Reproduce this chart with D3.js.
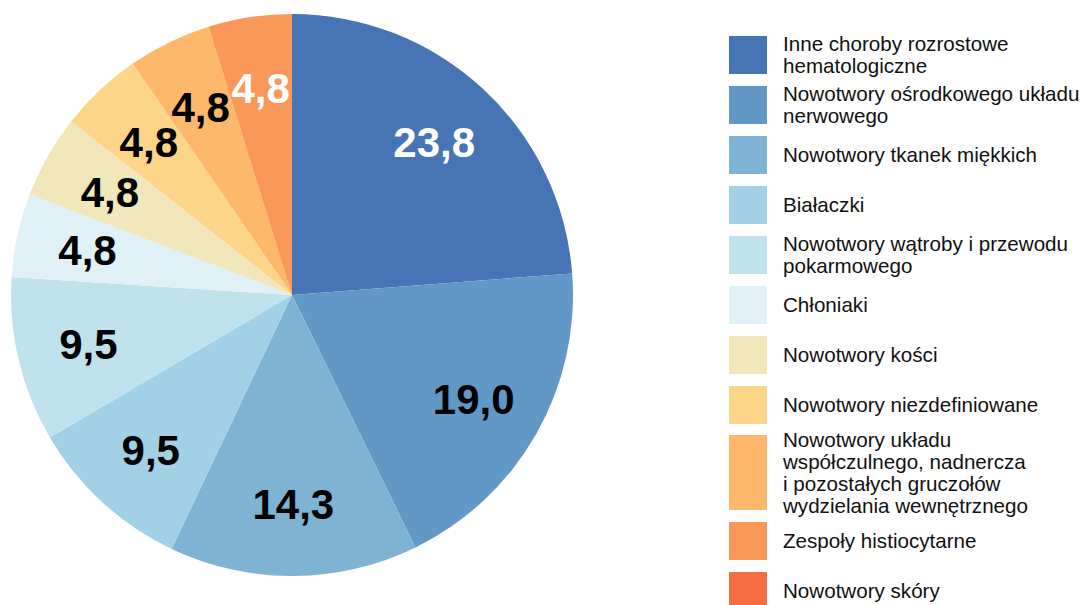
<!DOCTYPE html>
<html><head><meta charset="utf-8">
<script src="https://cdn.jsdelivr.net/npm/d3@7"></script>
<style>body{margin:0;background:#fff}svg{display:block}</style>
</head><body>
<svg id="c" width="1085" height="605"></svg>
<script>
const categories = [
  ["Inne choroby rozrostowe","hematologiczne"],
  ["Nowotwory ośrodkowego układu","nerwowego"],
  ["Nowotwory tkanek miękkich"],
  ["Białaczki"],
  ["Nowotwory wątroby i przewodu","pokarmowego"],
  ["Chłoniaki"],
  ["Nowotwory kości"],
  ["Nowotwory niezdefiniowane"],
  ["Nowotwory układu","współczulnego, nadnercza","i pozostałych gruczołów","wydzielania wewnętrznego"],
  ["Zespoły histiocytarne"],
  ["Nowotwory skóry"]
];
const values = [23.8, 19.0, 14.3, 9.5, 9.5, 4.8, 4.8, 4.8, 4.8, 4.8, 0];
const colors = ["#4674b5","#6298c6","#7fb3d4","#a2d0e4","#c0e2ec","#dff1f7","#f2e6bb","#fcd588","#fdb86b","#f99858","#f46d43"];
const labelColors = ["#fff","#000","#000","#000","#000","#000","#000","#000","#000","#fff","#000"];

const svg = d3.select("#c");
const cx = 292, cy = 295, R = 281;
const g = svg.append("g").attr("transform", `translate(${cx},${cy})`);
const pie = d3.pie().sort(null).value(d => d)(values);
const arc = d3.arc().innerRadius(0).outerRadius(R);
const labelArc = d3.arc().innerRadius(R*0.745).outerRadius(R*0.745);
const fmt = v => d3.format(".1f")(v).replace(".", ",");

g.selectAll("path").data(pie).join("path")
  .attr("d", arc).attr("fill", (d,i) => colors[i]);
g.selectAll("text").data(pie.filter(d => d.value > 0)).join("text")
  .attr("transform", d => `translate(${labelArc.centroid(d)})`)
  .attr("text-anchor","middle").attr("dy","0.36em")
  .attr("font-family","Liberation Sans, Arial, sans-serif")
  .attr("font-weight","bold").attr("font-size",42)
  .attr("fill", (d) => labelColors[d.index])
  .text(d => fmt(d.value));

// legend
const boxes = [[36,38],[86,38],[136,38],[186,38],[236,38],[286,38],[336,38],[386,38],[435,75],[522,38],[572,38]];
const lg = svg.append("g");
categories.forEach((lines, i) => {
  const [y, h] = boxes[i];
  lg.append("rect").attr("x",729).attr("y",y).attr("width",38).attr("height",h).attr("fill",colors[i]);
  const lh = 22;
  const mid = y + h/2;
  const first = mid - (lines.length-1)*lh/2;
  const t = lg.append("text").attr("font-family","Liberation Sans, Arial, sans-serif")
    .attr("font-size",20.6).attr("fill","#111");
  lines.forEach((ln, j) => {
    t.append("tspan").attr("x",783).attr("y", first + j*lh).attr("dy","0.35em").text(ln);
  });
});
</script>
</body></html>
